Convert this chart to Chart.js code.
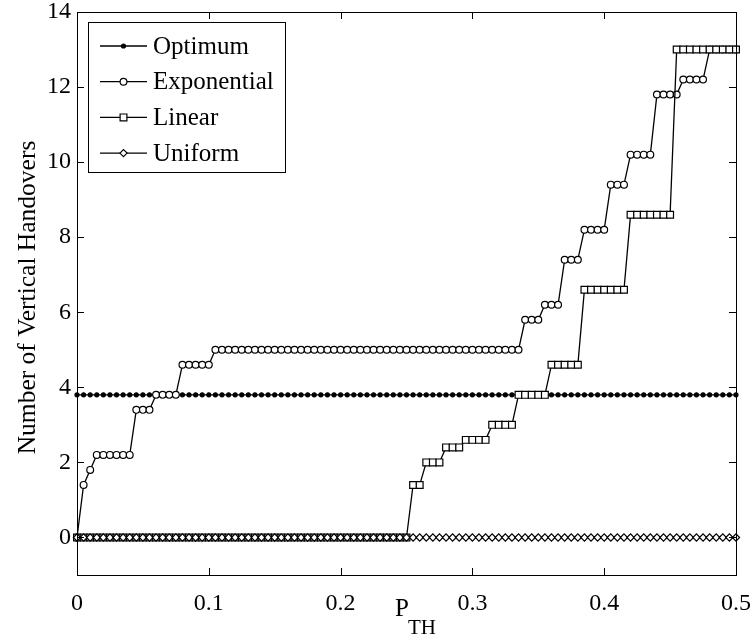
<!DOCTYPE html>
<html>
<head>
<meta charset="utf-8">
<script src="https://cdn.jsdelivr.net/npm/chart.js"></script>
<style>
  body { margin: 0; background: #fff; }
  #wrap { width: 752px; height: 636px; }
</style>
</head>
<body>
<div id="wrap"><canvas id="handovers" width="752" height="636"></canvas></div>
<script>
// P_TH sample points
const pTH = [
  0, 0.005, 0.01, 0.015, 0.02, 0.025, 0.03, 0.035, 0.04, 0.045,
  0.05, 0.055, 0.06, 0.065, 0.07, 0.075, 0.08, 0.085, 0.09, 0.095,
  0.1, 0.105, 0.11, 0.115, 0.12, 0.125, 0.13, 0.135, 0.14, 0.145,
  0.15, 0.155, 0.16, 0.165, 0.17, 0.175, 0.18, 0.185, 0.19, 0.195,
  0.2, 0.205, 0.21, 0.215, 0.22, 0.225, 0.23, 0.235, 0.24, 0.245,
  0.25, 0.255, 0.26, 0.265, 0.27, 0.275, 0.28, 0.285, 0.29, 0.295,
  0.3, 0.305, 0.31, 0.315, 0.32, 0.325, 0.33, 0.335, 0.34, 0.345,
  0.35, 0.355, 0.36, 0.365, 0.37, 0.375, 0.38, 0.385, 0.39, 0.395,
  0.4, 0.405, 0.41, 0.415, 0.42, 0.425, 0.43, 0.435, 0.44, 0.445,
  0.45, 0.455, 0.46, 0.465, 0.47, 0.475, 0.48, 0.485, 0.49, 0.495,
  0.5
]

const optimum = [
  3.8, 3.8, 3.8, 3.8, 3.8, 3.8, 3.8, 3.8, 3.8, 3.8,
  3.8, 3.8, 3.8, 3.8, 3.8, 3.8, 3.8, 3.8, 3.8, 3.8,
  3.8, 3.8, 3.8, 3.8, 3.8, 3.8, 3.8, 3.8, 3.8, 3.8,
  3.8, 3.8, 3.8, 3.8, 3.8, 3.8, 3.8, 3.8, 3.8, 3.8,
  3.8, 3.8, 3.8, 3.8, 3.8, 3.8, 3.8, 3.8, 3.8, 3.8,
  3.8, 3.8, 3.8, 3.8, 3.8, 3.8, 3.8, 3.8, 3.8, 3.8,
  3.8, 3.8, 3.8, 3.8, 3.8, 3.8, 3.8, 3.8, 3.8, 3.8,
  3.8, 3.8, 3.8, 3.8, 3.8, 3.8, 3.8, 3.8, 3.8, 3.8,
  3.8, 3.8, 3.8, 3.8, 3.8, 3.8, 3.8, 3.8, 3.8, 3.8,
  3.8, 3.8, 3.8, 3.8, 3.8, 3.8, 3.8, 3.8, 3.8, 3.8,
  3.8
]

const exponential = [
  0, 1.4, 1.8, 2.2, 2.2, 2.2, 2.2, 2.2, 2.2, 3.4,
  3.4, 3.4, 3.8, 3.8, 3.8, 3.8, 4.6, 4.6, 4.6, 4.6,
  4.6, 5, 5, 5, 5, 5, 5, 5, 5, 5,
  5, 5, 5, 5, 5, 5, 5, 5, 5, 5,
  5, 5, 5, 5, 5, 5, 5, 5, 5, 5,
  5, 5, 5, 5, 5, 5, 5, 5, 5, 5,
  5, 5, 5, 5, 5, 5, 5, 5, 5.8, 5.8,
  5.8, 6.2, 6.2, 6.2, 7.4, 7.4, 7.4, 8.2, 8.2, 8.2,
  8.2, 9.4, 9.4, 9.4, 10.2, 10.2, 10.2, 10.2, 11.8, 11.8,
  11.8, 11.8, 12.2, 12.2, 12.2, 12.2, 13, 13, 13, 13,
  13
]

const linear = [
  0, 0, 0, 0, 0, 0, 0, 0, 0, 0,
  0, 0, 0, 0, 0, 0, 0, 0, 0, 0,
  0, 0, 0, 0, 0, 0, 0, 0, 0, 0,
  0, 0, 0, 0, 0, 0, 0, 0, 0, 0,
  0, 0, 0, 0, 0, 0, 0, 0, 0, 0,
  0, 1.4, 1.4, 2, 2, 2, 2.4, 2.4, 2.4, 2.6,
  2.6, 2.6, 2.6, 3, 3, 3, 3, 3.8, 3.8, 3.8,
  3.8, 3.8, 4.6, 4.6, 4.6, 4.6, 4.6, 6.6, 6.6, 6.6,
  6.6, 6.6, 6.6, 6.6, 8.6, 8.6, 8.6, 8.6, 8.6, 8.6,
  8.6, 13, 13, 13, 13, 13, 13, 13, 13, 13,
  13
]

const uniform = [
  0, 0, 0, 0, 0, 0, 0, 0, 0, 0,
  0, 0, 0, 0, 0, 0, 0, 0, 0, 0,
  0, 0, 0, 0, 0, 0, 0, 0, 0, 0,
  0, 0, 0, 0, 0, 0, 0, 0, 0, 0,
  0, 0, 0, 0, 0, 0, 0, 0, 0, 0,
  0, 0, 0, 0, 0, 0, 0, 0, 0, 0,
  0, 0, 0, 0, 0, 0, 0, 0, 0, 0,
  0, 0, 0, 0, 0, 0, 0, 0, 0, 0,
  0, 0, 0, 0, 0, 0, 0, 0, 0, 0,
  0, 0, 0, 0, 0, 0, 0, 0, 0, 0,
  0
]

const seriesNames = ['Optimum', 'Exponential', 'Linear', 'Uniform']
const xTicks = [0, 0.1, 0.2, 0.3, 0.4, 0.5]
const xTickLabels = ['0', '0.1', '0.2', '0.3', '0.4', '0.5']
const yTicks = [0, 2, 4, 6, 8, 10, 12, 14]
const yTickLabels = ['0', '2', '4', '6', '8', '10', '12', '14']

const FONT = "'Liberation Serif', 'Times New Roman', serif"

const markers = [
  { style: 'circle', radius: 2, fill: '#000' },
  { style: 'circle', radius: 3.4, fill: '#fff' },
  { style: 'rect', radius: 4.8, fill: '#fff' },
  { style: 'rectRot', radius: 3.6, fill: '#fff' }
]

const toPoints = ys => pTH.map((x, i) => ({ x: x, y: ys[i] }))

const makeSet = (k, ys, order) => ({
  label: seriesNames[k],
  data: toPoints(ys),
  borderColor: '#000',
  borderWidth: 1.3,
  pointStyle: markers[k].style,
  pointRadius: markers[k].radius,
  pointBackgroundColor: markers[k].fill,
  pointBorderColor: '#000',
  pointBorderWidth: 1.2,
  showLine: true,
  clip: false,
  order: order
})

// little marker drawer for the legend
function drawMarker(ctx, m, x, y) {
  ctx.save()
  ctx.fillStyle = m.fill
  ctx.strokeStyle = '#000'
  ctx.lineWidth = 1.2
  ctx.beginPath()
  const r = m.radius
  if (m.style === 'circle') {
    ctx.arc(x, y, r, 0, Math.PI * 2)
  } else if (m.style === 'rect') {
    const s = r * Math.SQRT1_2
    ctx.rect(x - s, y - s, 2 * s, 2 * s)
  } else {
    ctx.moveTo(x - r, y)
    ctx.lineTo(x, y - r)
    ctx.lineTo(x + r, y)
    ctx.lineTo(x, y + r)
    ctx.closePath()
  }
  ctx.fill()
  ctx.stroke()
  ctx.restore()
}

const frame = {
  id: 'frame',
  afterDraw(chart) {
    const { ctx, chartArea: a, scales } = chart
    ctx.save()
    ctx.strokeStyle = '#000'
    ctx.lineWidth = 1
    ctx.strokeRect(a.left + 0.5, a.top + 0.5, a.right - a.left, a.bottom - a.top)

    // inward ticks on all four sides
    const tl = 7
    ctx.beginPath()
    xTicks.forEach(v => {
      const px = Math.round(scales.x.getPixelForValue(v)) + 0.5
      ctx.moveTo(px, a.bottom); ctx.lineTo(px, a.bottom - tl)
      ctx.moveTo(px, a.top); ctx.lineTo(px, a.top + tl)
    })
    yTicks.forEach(v => {
      const py = Math.round(scales.y.getPixelForValue(v)) + 0.5
      ctx.moveTo(a.left, py); ctx.lineTo(a.left + tl, py)
      ctx.moveTo(a.right, py); ctx.lineTo(a.right - tl, py)
    })
    ctx.stroke()

    // axis titles
    ctx.fillStyle = '#000'
    ctx.font = '25px ' + FONT
    ctx.textBaseline = 'alphabetic'
    ctx.textAlign = 'left'
    ctx.fillText('P', 395, 616)
    ctx.font = '21px ' + FONT
    ctx.fillText('TH', 408, 634)

    ctx.save()
    ctx.translate(35, (a.top + a.bottom) / 2 + 4)
    ctx.rotate(-Math.PI / 2)
    ctx.font = '25.5px ' + FONT
    ctx.textAlign = 'center'
    ctx.fillText('Number of Vertical Handovers', 0, 0)
    ctx.restore()

    // legend box
    const bx = 88, by = 22, bw = 197, bh = 150
    ctx.fillStyle = '#fff'
    ctx.fillRect(bx, by, bw, bh)
    ctx.strokeRect(bx + 0.5, by + 0.5, bw, bh)
    seriesNames.forEach((name, k) => {
      const y = 46 + k * 35.7
      ctx.beginPath()
      ctx.lineWidth = 1.3
      ctx.moveTo(100, y); ctx.lineTo(147, y)
      ctx.stroke()
      drawMarker(ctx, markers[k], 123.5, y)
      ctx.fillStyle = '#000'
      ctx.font = '25px ' + FONT
      ctx.textAlign = 'left'
      ctx.textBaseline = 'middle'
      ctx.fillText(name, 153, y + 1)
    })
    ctx.restore()
  }
}

new Chart(document.getElementById('handovers'), {
  type: 'scatter',
  data: {
    datasets: [
      makeSet(0, optimum, 4),
      makeSet(1, exponential, 3),
      makeSet(2, linear, 2),
      makeSet(3, uniform, 1)
    ]
  },
  options: {
    responsive: false,
    animation: false,
    layout: { padding: { left: 0, top: 12, right: 16, bottom: 0 } },
    plugins: {
      legend: { display: false },
      tooltip: { enabled: false }
    },
    scales: {
      x: {
        type: 'linear',
        min: 0,
        max: 0.5,
        grid: { display: false, drawTicks: false },
        border: { display: false },
        afterBuildTicks: s => { s.ticks = xTicks.map(v => ({ value: v })) },
        afterFit: s => { s.height = 61; s.paddingLeft = 0; s.paddingRight = 0 },
        ticks: {
          color: '#000',
          padding: 14,
          maxRotation: 0,
          font: { family: FONT, size: 24 },
          callback: (v, i) => xTickLabels[i]
        }
      },
      y: {
        min: -1,
        max: 14,
        grid: { display: false, drawTicks: false },
        border: { display: false },
        afterBuildTicks: s => { s.ticks = yTicks.map(v => ({ value: v })) },
        afterFit: s => { s.width = 77; s.paddingTop = 0; s.paddingBottom = 0 },
        ticks: {
          color: '#000',
          padding: 6,
          font: { family: FONT, size: 24 },
          callback: (v, i) => yTickLabels[i]
        }
      }
    }
  },
  plugins: [frame]
})
</script>
</body>
</html>
